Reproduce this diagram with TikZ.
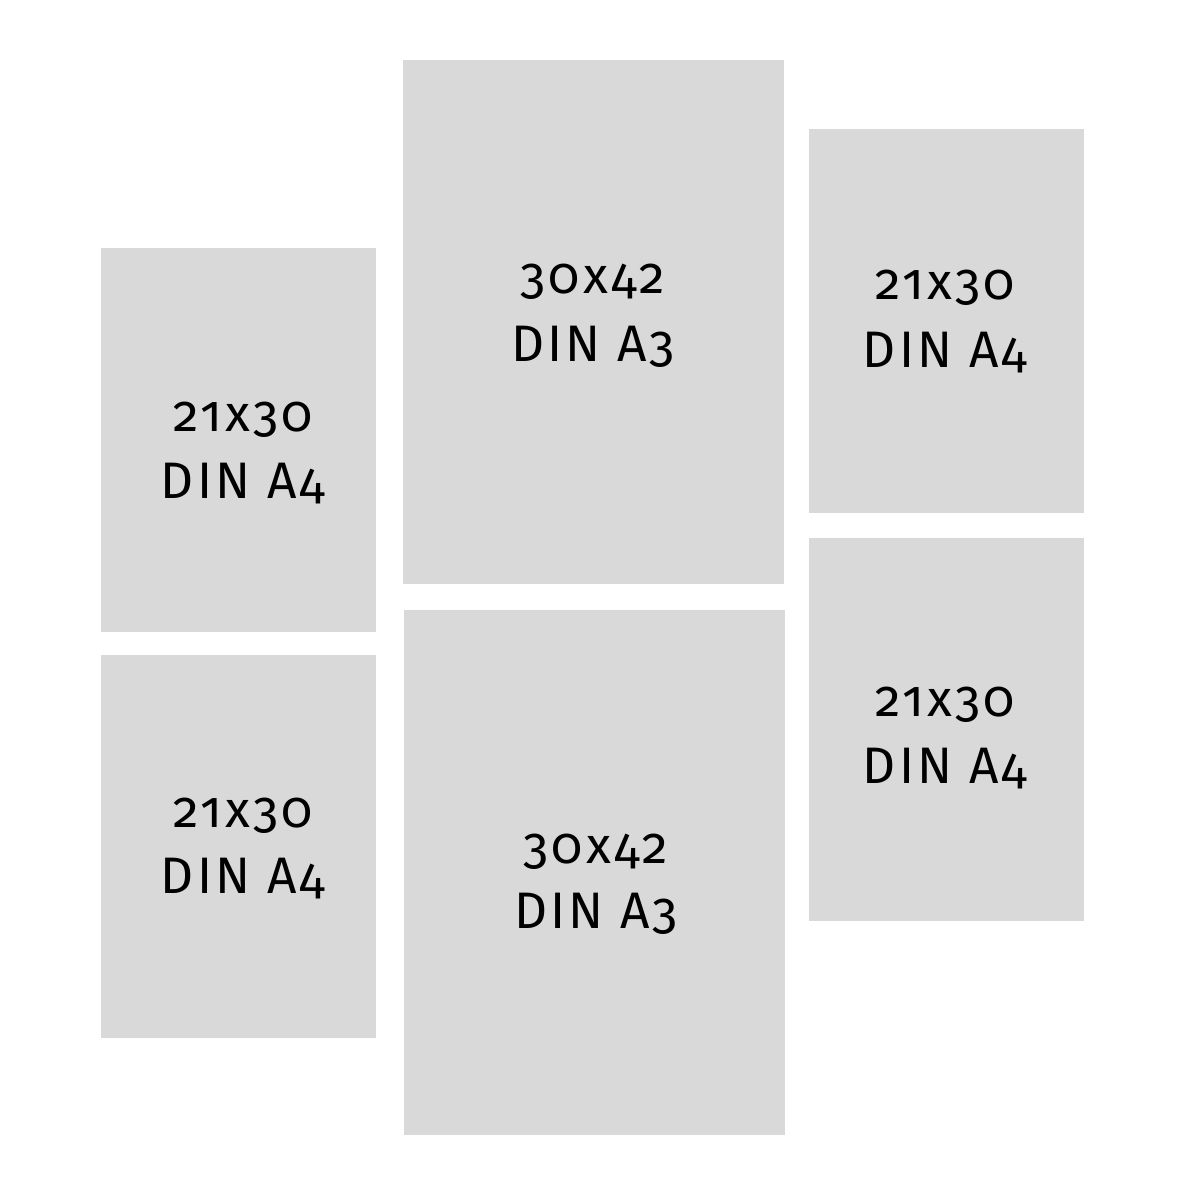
\documentclass[tikz,border=0pt]{standalone}
\usepackage{fontspec}
\setmainfont{Fira Sans}[Numbers=OldStyle,LetterSpace=6]
\usepackage{tikz}

\begin{document}
\begin{tikzpicture}[x=0.75pt,y=0.75pt,yscale=-1,xscale=1]
%set diagram left start at 0, and has size of 1200 x 1200
\useasboundingbox [fill=white] (0,0) rectangle (1200,1200);

%Shape: Rectangle (left top)
\draw  [draw opacity=0][fill={rgb, 255:red, 217; green, 217; blue, 217 }  ,fill opacity=1 ] (101,248) rectangle (376,632) ;
%Shape: Rectangle (left bottom)
\draw  [draw opacity=0][fill={rgb, 255:red, 217; green, 217; blue, 217 }  ,fill opacity=1 ] (101,655) rectangle (376,1038) ;
%Shape: Rectangle (middle top)
\draw  [draw opacity=0][fill={rgb, 255:red, 217; green, 217; blue, 217 }  ,fill opacity=1 ] (403,60) rectangle (784,584) ;
%Shape: Rectangle (middle bottom)
\draw  [draw opacity=0][fill={rgb, 255:red, 217; green, 217; blue, 217 }  ,fill opacity=1 ] (404,610) rectangle (785,1135) ;
%Shape: Rectangle (right top)
\draw  [draw opacity=0][fill={rgb, 255:red, 217; green, 217; blue, 217 }  ,fill opacity=1 ] (809,129) rectangle (1084,513) ;
%Shape: Rectangle (right bottom)
\draw  [draw opacity=0][fill={rgb, 255:red, 217; green, 217; blue, 217 }  ,fill opacity=1 ] (809,538) rectangle (1084,921) ;

% Text Node
\draw (243,431) node (sizeLT) [anchor=base][inner sep=0.75pt]   [font=\fontsize{38.5}{46}\selectfont] {21x30};
% Text Node
\draw (243,498) node (dinLT) [anchor=base][inner sep=0.75pt]   [font=\fontsize{38.5}{46}\selectfont] {DIN A4};
% Text Node
\draw (243,827) node (sizeLB) [anchor=base][inner sep=0.75pt]   [font=\fontsize{38.5}{46}\selectfont] {21x30};
% Text Node
\draw (243,893) node (dinLB) [anchor=base][inner sep=0.75pt]   [font=\fontsize{38.5}{46}\selectfont] {DIN A4};
% Text Node
\draw (593,293) node (sizeMT) [anchor=base][inner sep=0.75pt]   [font=\fontsize{38.5}{46}\selectfont] {30x42};
% Text Node
\draw (593,361) node (dinMT) [anchor=base][inner sep=0.75pt]   [font=\fontsize{38.5}{46}\selectfont] {DIN A3};
% Text Node
\draw (596,863) node (sizeMB) [anchor=base][inner sep=0.75pt]   [font=\fontsize{38.5}{46}\selectfont] {30x42};
% Text Node
\draw (596,928) node (dinMB) [anchor=base][inner sep=0.75pt]   [font=\fontsize{38.5}{46}\selectfont] {DIN A3};
% Text Node
\draw (945,299) node (sizeRT) [anchor=base][inner sep=0.75pt]   [font=\fontsize{38.5}{46}\selectfont] {21x30};
% Text Node
\draw (945,367) node (dinRT) [anchor=base][inner sep=0.75pt]   [font=\fontsize{38.5}{46}\selectfont] {DIN A4};
% Text Node
\draw (945,716) node (sizeRB) [anchor=base][inner sep=0.75pt]   [font=\fontsize{38.5}{46}\selectfont] {21x30};
% Text Node
\draw (945,783) node (dinRB) [anchor=base][inner sep=0.75pt]   [font=\fontsize{38.5}{46}\selectfont] {DIN A4};

\end{tikzpicture}
\end{document}
